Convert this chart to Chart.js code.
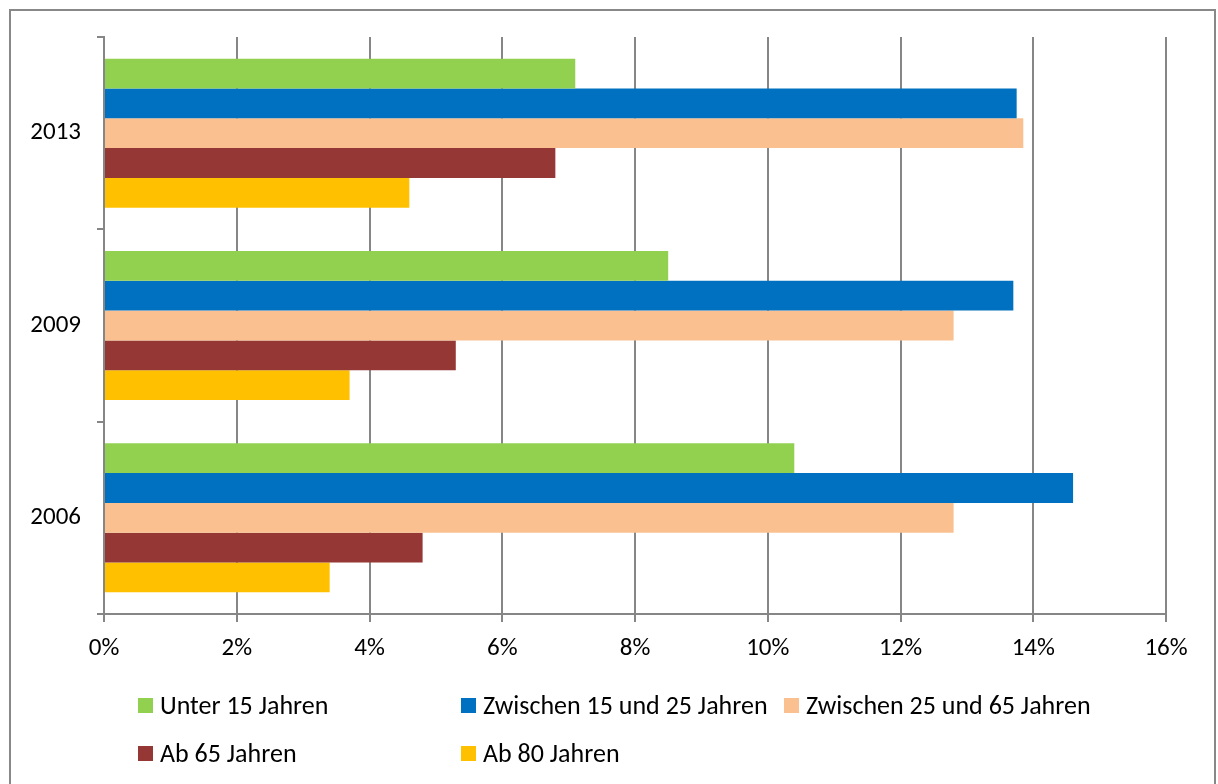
<!DOCTYPE html>
<html>
<head>
<meta charset="utf-8">
<script src="https://cdn.jsdelivr.net/npm/chart.js@4.4.1/dist/chart.umd.min.js"></script>
<style>
  html, body { margin: 0; padding: 0; background: #fff; }
  body { width: 1218px; height: 784px; position: relative; overflow: hidden; font-family: Carlito, Lato, sans-serif; }
  #frame { position: absolute; left: 9px; top: 9px; width: 1207px; height: 800px; border: 2px solid #888; box-sizing: border-box; }
  #myChart { position: absolute; left: 0; top: 0; }
  #legend { position: absolute; left: 0; top: 0; width: 1218px; height: 784px; pointer-events: none; }
  .item { position: absolute; font-size: 26px; color: #000; white-space: nowrap; line-height: 30px; }
  .item span.box { display: inline-block; width: 15px; height: 15px; margin-right: 7px; vertical-align: 1px; }
</style>
</head>
<body>
<div id="frame"></div>
<canvas id="myChart" width="1218" height="784"></canvas>
<div id="legend"></div>
<script>
// Daten
const jahre = ['2013', '2009', '2006'];
const reihen = ['Unter 15 Jahren', 'Zwischen 15 und 25 Jahren', 'Zwischen 25 und 65 Jahren', 'Ab 65 Jahren', 'Ab 80 Jahren'];
const unter15 = [7.1, 8.5, 10.4];
const zw15bis25 = [13.75, 13.7, 14.6];
const zw25bis65 = [13.85, 12.8, 12.8];
const ab65 = [6.8, 5.3, 4.8];
const ab80 = [4.6, 3.7, 3.4];
const xTicks = [0, 2, 4, 6, 8, 10, 12, 14, 16];

const farben = ['#92D050', '#0070C0', '#FAC090', '#953735', '#FFC000'];
const werte = [unter15, zw15bis25, zw25bis65, ab65, ab80];

const ctx = document.getElementById('myChart').getContext('2d');
new Chart(ctx, {
    type: 'bar',
    data: {
        labels: jahre,
        datasets: reihen.map((name, i) => ({
            label: name,
            data: werte[i],
            backgroundColor: farben[i],
            borderWidth: 0,
            categoryPercentage: 0.775,
            barPercentage: 1.0
        }))
    },
    options: {
        indexAxis: 'y',
        responsive: false,
        animation: false,
        layout: { padding: { left: 0, top: 37, right: 52, bottom: 110 } },
        plugins: { legend: { display: false }, tooltip: { enabled: false } },
        scales: {
            x: {
                min: 0,
                max: 16,
                afterBuildTicks: scale => { scale.ticks = xTicks.map(v => ({ value: v })); },
                afterFit: scale => { scale.height = 60; },
                ticks: {
                    callback: v => v + '%',
                    color: '#000',
                    padding: 12,
                    font: { family: 'Carlito, Lato, sans-serif', size: 25 }
                },
                grid: { color: '#868686', lineWidth: 2, tickLength: 8 },
                border: { color: '#868686', width: 2 }
            },
            y: {
                afterFit: scale => { scale.width = 104; },
                ticks: {
                    color: '#000',
                    padding: 16,
                    font: { family: 'Carlito, Lato, sans-serif', size: 25 }
                },
                grid: { drawOnChartArea: false, color: '#868686', lineWidth: 2, tickLength: 7, offset: true },
                border: { color: '#868686', width: 2 }
            }
        }
    }
});

// Legende (Excel-Stil, zwei Zeilen)
const pos = [[138, 690], [461, 690], [784, 690], [138, 738], [461, 738]];
const leg = document.getElementById('legend');
reihen.forEach((name, i) => {
    const d = document.createElement('div');
    d.className = 'item';
    d.style.left = pos[i][0] + 'px';
    d.style.top = pos[i][1] + 'px';
    d.innerHTML = '<span class="box" style="background:' + farben[i] + '"></span>' + name;
    leg.appendChild(d);
});
</script>
</body>
</html>
